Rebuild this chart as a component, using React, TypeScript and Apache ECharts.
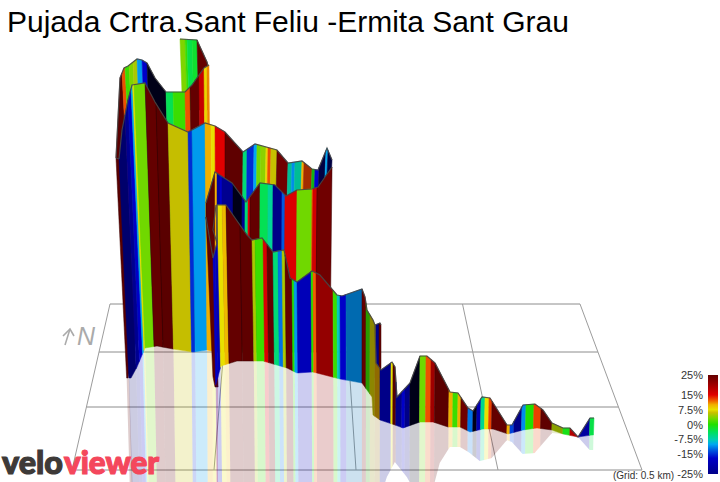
import React, { useEffect, useRef } from "react";
import * as echarts from "echarts";

type P = [number, number];
// a band starts at x, has a gradient (%) and optionally a shading factor for its lighting
type Band = [number, number, number?];

const titleText = "Pujada Crtra.Sant Feliu -Ermita Sant Grau";
const gridNote = "(Grid: 0.5 km)";
const legendTicks: [string, number][] = [["25%", 25], ["15%", 15], ["7.5%", 7.5], ["0%", 0], ["-7.5%", -7.5], ["-15%", -15], ["-25%", -25]];

// gradient (%) to colour ramp; values beyond +/-25 are the shaded faces of the ribbon
const rampGrades = [-33, -25, -17, -13, -10, -7.5, -4, 0, 3, 6, 7.5, 10, 12, 15, 20, 25, 33];
const rampColors = ["#000018", "#000088", "#0000c8", "#0058e0", "#00a8f0", "#00d0b0", "#00e060", "#20e000", "#70d800", "#c8c000", "#e8e000", "#f0b000", "#f06000", "#e00000", "#a00000", "#640000", "#3c0000"];

// floor grid, in projected picture coordinates
const floorDepthY = [304, 352, 407, 470];
const floorBackX = [110, 227.5, 345, 462.5, 580];
const floorFrontX = [72, 214, 356, 498, 642];

// ribbon 1 (furthest back)
const r1Top: P[] = [[180, 39], [197, 40], [207, 62], [208, 66]];
const r1Bottom: P[] = [[175, 110], [215, 110]];
const r1End = 208;
const r1Bands: Band[] = [[180, 3.5], [185, 1], [187, -3], [192, -2], [197, 25]];

const r2Top: P[] = [[116, 158], [120, 78], [124, 68], [128, 66], [137, 59], [142, 60], [147, 63], [155, 78], [166, 92], [185, 92], [192, 85], [204, 68], [209, 65]];
const r2Bottom: P[] = [[110, 378], [128, 378], [136, 340], [215, 340]];
const r2Reflection: P[] = [[100, 520], [300, 520]];
const r2End = 209;
const r2Bands: Band[] = [[116, 27], [122, 12.5], [125, 1], [129, 3.5], [133, 5], [137, -10.5], [142, -17], [147, -33], [166, -3.5], [173, 1], [185, 12.5], [190, 25], [199, 17], [204, 8], [207, 11]];

const r3Top: P[] = [[119, 159], [122, 130], [128, 100], [132, 85], [145, 83], [155, 102], [168, 123], [188, 132], [205, 123], [215, 126], [225, 132], [243, 152], [255, 144], [277, 150], [288, 163], [302, 161], [312, 169], [318, 170], [327, 148], [332, 160]];
const r3Bottom: P[] = [[119, 378], [131, 378], [137, 367], [145, 348], [157, 346], [173, 349], [193, 352], [207, 350], [216, 352], [340, 352]];
const r3Reflection: P[] = [[100, 520], [300, 520]];
const r3End = 332;
const r3Bands: Band[] = [[119, -27], [125, -24], [128, -17], [131, -10], [132.5, 7.5], [134, 3], [145, 25], [156, 27], [168, 7.5, 0.85], [188, -15], [192, -10.5], [205, 10], [211, 7.5], [215, 15], [225, 26], [243, -5], [247, -15], [254, -10], [257, 3], [261, 4], [266, 8], [268, 12.5], [271, 7, 0.9], [277, 24], [288, -7, 0.9], [292, -11], [295, -7, 0.9], [302, 10], [304, 13, 0.7], [312, -1, 0.8], [315, -17], [319, -30], [326, -10], [328, -30]];

const foldOutline: P[] = [[116, 158], [119, 159]];

const r4Top: P[] = [[206, 203], [215, 172], [232, 183], [246, 202], [260, 183], [275, 185], [286, 196], [297, 190], [312, 189], [318, 187], [332, 167]];
const r4Bottom: P[] = [[206, 217], [213, 258], [220, 340], [340, 340]];
const r4End = 332;
const r4Bands: Band[] = [[206, 26], [215, 10], [217, -22], [220, -17], [222, -24], [233, -33], [242, -24], [245, -5], [248, 15], [250, 25], [260, -3.5], [268, -6.5], [273, -25], [282, -13], [285, 15.5], [297, 3], [312, 12], [313, 16], [317, 24]];

// left edge that runs down in front of ribbon 3
const r4EdgeTop: P[] = [[206, 217], [209, 235], [213, 258]];
const r4EdgeBottom: P[] = [[212, 372], [215, 387], [222, 387]];
const r4EdgeEnd = 213;
const r4EdgeBands: Band[] = [[206, 26]];
const r4EdgeLoop: P[] = [[217, 243], [213, 230], [216, 205]];

const r5BackTop: P[] = [[375, 325], [380, 323], [381, 325]];
const r5BackBottom: P[] = [[370, 378], [386, 378]];
const r5BackEnd = 381;
const r5BackBands: Band[] = [[375, -25], [379, 25]];

const r6Top: P[] = [[213, 258], [217, 243], [217.1, 205], [226, 205], [247, 235], [252, 240], [262, 238], [273, 252], [284, 250], [290, 278], [297, 282], [312, 271], [320, 275], [337, 295], [342, 296], [362, 289], [365, 297], [367, 310], [373, 320], [375, 325], [376, 363], [381, 370], [392, 362], [395, 367], [397, 397], [410, 383], [420, 356], [427, 356], [435, 363], [450, 392], [458, 393], [468, 408], [473, 411], [482, 397], [490, 398], [507, 425], [512, 425], [523, 405], [535, 404], [543, 410], [552, 423], [563, 428], [570, 428], [578, 437], [590, 418], [594, 418]];
const r6Bottom: P[] = [[205, 387], [215, 387], [221, 366], [237, 361], [263, 361], [287, 368], [297, 373], [313, 372], [340, 379], [362, 383], [372, 397], [373, 415], [380, 420], [395, 425], [403, 428], [420, 422], [433, 422], [448, 427], [460, 427], [470, 432], [483, 429], [493, 429], [508, 434], [523, 430], [537, 428], [552, 430], [563, 434], [578, 437], [592, 435], [600, 435]];
const r6Reflection: P[] = [[205, 520], [373, 520], [387, 477], [395, 462], [407, 477], [420, 500], [433, 490], [440, 463], [450, 447], [460, 447], [470, 453], [480, 461], [492, 458], [507, 440], [512, 442], [523, 454], [535, 453], [552, 433], [563, 434], [578, 437], [590, 450], [600, 450]];
const r6End = 594;
const r6Bands: Band[] = [
  [213, -17], [215, -19], [217.1, 7.5], [222, 9.5], [226, 25], [240, 26], [252, 5], [255, 1], [263, 15.5], [267, 25],
  [273, -5], [278, -12], [282, 5], [285, 25], [292, 0], [294, -10.5], [297, -19], [311, 0], [313, 12], [316, 21],
  [333, 1], [337, -8], [340, -17], [346, -11, 0.75], [362, 25], [366, 1, 0.7], [370, 6, 0.7], [375, 10, 0.6],
  [380, -25], [391, 7.5], [393, 27], [396, -25], [402, -17], [405, -25], [410, -33], [420, 3], [426, 12.5], [431, 20],
  [435, 27], [449, 10], [453, 1], [458, 10], [461, 24], [468, -12], [473, -33], [477, -20], [481, -6], [485, 7.5],
  [489, 13], [492, 25], [507, 10], [510, -14], [514, -25], [522, -11], [526, 0], [534, 13], [541, 26], [552, 5, 0.8],
  [563, -1], [570, 15, 0.8], [578, -22], [590, -3],
];

const logoVelo = "velo";
const logoViewer = "viewer";

function rampColor(g: number, shade = 1): string {
  const hex = (c: string) => [1, 3, 5].map((i) => parseInt(c.slice(i, i + 2), 16));
  let i = 0;
  while (i < rampGrades.length - 2 && g > rampGrades[i + 1]) i++;
  const t = Math.min(1, Math.max(0, (g - rampGrades[i]) / (rampGrades[i + 1] - rampGrades[i])));
  const a = hex(rampColors[i]);
  const b = hex(rampColors[i + 1]);
  const m = a.map((v, k) => Math.round((v + (b[k] - v) * t) * shade));
  return `rgb(${m[0]},${m[1]},${m[2]})`;
}

function yAt(line: P[], x: number): number {
  if (x <= line[0][0]) return line[0][1];
  for (let i = 1; i < line.length; i++) {
    if (x <= line[i][0]) {
      const [x0, y0] = line[i - 1];
      const [x1, y1] = line[i];
      return y0 + ((y1 - y0) * (x - x0)) / (x1 - x0 || 1);
    }
  }
  return line[line.length - 1][1];
}

function between(line: P[], a: number, b: number): P[] {
  const inner = line.filter((p) => p[0] > a && p[0] < b);
  return [[a, yAt(line, a)], ...inner, [b, yAt(line, b)]];
}

type Shape = { kind: "polygon" | "polyline"; pts: P[]; fill?: string; stroke?: string; width?: number; opacity?: number };
const shapes: Shape[] = [];

function addFloor() {
  const c = "#8c8c8c";
  const xAtDepth = (back: number, front: number, y: number) => back + ((front - back) * (y - floorDepthY[0])) / (floorDepthY[3] - floorDepthY[0]);
  floorDepthY.forEach((y) => {
    shapes.push({ kind: "polyline", pts: [[xAtDepth(floorBackX[0], floorFrontX[0], y), y], [xAtDepth(floorBackX[4], floorFrontX[4], y), y]], stroke: c, width: 1 });
  });
  floorBackX.forEach((bx, i) => {
    shapes.push({ kind: "polyline", pts: [[bx, floorDepthY[0]], [floorFrontX[i], floorDepthY[3]]], stroke: "#9c9c9c", width: 1 });
  });
}

const outlineColor = "rgba(70,70,70,0.9)";

function addRibbon(top: P[], bottom: P[], bands: Band[], end: number, vx: number, c: number, reflection?: P[] | null, reflectTo?: number) {
  const lean = (x: number) => x + (vx - x) * (yAt(bottom, x) - yAt(top, x)) * c;
  const startOf = (i: number) => bands[i][0];
  const endOf = (i: number) => (i + 1 < bands.length ? bands[i + 1][0] : end);
  if (reflection) {
    bands.forEach(([, g, sh], i) => {
      const a = lean(startOf(i));
      const b = lean(endOf(i));
      if (reflectTo !== undefined && a >= reflectTo) return;
      const b2 = reflectTo !== undefined ? Math.min(b, reflectTo) : b;
      const upper = between(bottom, a, b2);
      const lower = between(reflection, a, b2);
      const drift = (x: number, xt: number) => ((x - xt) / (yAt(bottom, x) - yAt(top, xt) || 1)) * 0.6;
      const da = drift(a, startOf(i));
      const db = drift(b, endOf(i));
      const low = lower.map(([x, y]): P => [x + (da + ((db - da) * (x - a)) / (b2 - a || 1)) * (y - yAt(bottom, x)), y]);
      shapes.push({ kind: "polygon", pts: [...upper, ...low.reverse()], fill: rampColor(g, sh), opacity: 0.2 });
    });
  }
  bands.forEach(([, g, sh], i) => {
    const a = startOf(i);
    const b = endOf(i);
    const t = between(top, a, b);
    const btm = between(bottom, lean(a), lean(b)).reverse();
    const fill = rampColor(g, sh);
    shapes.push({ kind: "polygon", pts: [...t, ...btm], fill, stroke: g >= 22 ? "#3a0000" : fill, width: 0.5 });
  });
  shapes.push({ kind: "polyline", pts: top.filter((p) => p[0] >= bands[0][0] && p[0] <= end), stroke: outlineColor, width: 1.2 });
}

addFloor();
addRibbon(r1Top, r1Bottom, r1Bands, r1End, 226, 8e-4);
addRibbon(r2Top, r2Bottom, r2Bands, r2End, 226, 4.4e-4, r2Reflection, 129);
addRibbon(r3Top, r3Bottom, r3Bands, r3End, 226, 4.2e-4, r3Reflection, 218);
shapes.push({ kind: "polyline", pts: foldOutline, stroke: outlineColor, width: 1.2 });
addRibbon(r4Top, r4Bottom, r4Bands, r4End, 226, 1e-4);
addRibbon(r4EdgeTop, r4EdgeBottom, r4EdgeBands, r4EdgeEnd, 400, 2.3e-4);
shapes.push({ kind: "polyline", pts: r4EdgeLoop, stroke: outlineColor, width: 1.2 });
addRibbon(r5BackTop, r5BackBottom, r5BackBands, r5BackEnd, 378, 0);
addRibbon(r6Top, r6Bottom, r6Bands, r6End, 360, 1.4e-4, r6Reflection);

const legendX = 708;
const legendTop = 375;
const legendBottom = 474;
const legendY = (g: number) => legendTop + ((25 - g) / 50) * (legendBottom - legendTop);

export default function App() {
  const ref = useRef<HTMLDivElement>(null);
  useEffect(() => {
    document.body.style.margin = "0";
    const chart = echarts.init(ref.current!, undefined, { renderer: "svg" });
    const sans = "'Liberation Sans', Arial, sans-serif";
    const logoFont = "900 33px Lato, 'Open Sans', sans-serif";
    const colorStops = rampGrades
      .map((g, i) => ({ g, c: rampColors[i] }))
      .filter((s) => s.g >= -25 && s.g <= 25)
      .map((s) => ({ offset: (25 - s.g) / 50, color: s.c }))
      .sort((p, q) => p.offset - q.offset);
    const graphic: any[] = [
      { type: "rect", shape: { x: legendX, y: legendTop, width: 10, height: legendBottom - legendTop }, style: { fill: new echarts.graphic.LinearGradient(0, 0, 0, 1, colorStops) }, z: 10 },
      ...legendTicks.map(([t, g]) => ({ type: "text", x: 703, y: legendY(g), style: { text: t, fill: "#333", font: `11px ${sans}`, align: "right", verticalAlign: "middle" }, z: 10 })),
      { type: "text", x: 613, y: 475, style: { text: gridNote, fill: "#333", font: `10px ${sans}`, align: "left", verticalAlign: "middle" }, z: 10 },
      { type: "text", x: 77, y: 336, style: { text: "N", fill: "#aaa", font: `italic 25px ${sans}`, align: "left", verticalAlign: "middle" }, z: 10 },
      { type: "polyline", shape: { points: [[65, 345], [70, 329]] }, style: { stroke: "#aaa", lineWidth: 1.6, fill: "none" }, z: 10 },
      { type: "polyline", shape: { points: [[63, 336], [70, 329], [74, 336]] }, style: { stroke: "#aaa", lineWidth: 1.6, fill: "none" }, z: 10 },
      { type: "text", x: 2, y: 461, scaleX: 0.98, style: { text: logoVelo, fill: "#3e3a38", stroke: "#3e3a38", lineWidth: 1.2, font: logoFont, align: "left", verticalAlign: "middle" }, z: 10 },
      { type: "text", x: 64, y: 461, scaleX: 0.95, style: { text: logoViewer, fill: "#f4475c", stroke: "#f4475c", lineWidth: 1.2, font: logoFont, align: "left", verticalAlign: "middle" }, z: 10 },
    ];
    chart.setOption({
      animation: false,
      title: { text: titleText, left: 2, top: 1, textStyle: { fontFamily: sans, fontSize: 30, fontWeight: "normal", color: "#000" } },
      grid: { left: 0, right: 0, top: 0, bottom: 0 },
      xAxis: { type: "value", min: 0, max: 720, show: false },
      yAxis: { type: "value", min: 0, max: 482, inverse: true, show: false },
      graphic,
      series: [
        {
          type: "custom",
          coordinateSystem: "cartesian2d",
          clip: false,
          silent: true,
          data: shapes.map((_, i) => [i, i]),
          renderItem: (params: any, api: any) => {
            const s = shapes[params.dataIndex];
            const points = s.pts.map((p) => api.coord(p));
            return {
              type: s.kind,
              shape: { points },
              style: s.kind === "polygon"
                ? { fill: s.fill, stroke: s.stroke ?? "none", lineWidth: s.width ?? 0, opacity: s.opacity ?? 1 }
                : { fill: "none", stroke: s.stroke, lineWidth: s.width ?? 1 },
            };
          },
        },
      ],
    });
    return () => chart.dispose();
  }, []);
  return <div ref={ref} style={{ position: "absolute", left: 0, top: 0, width: 720, height: 482 }} />;
}
